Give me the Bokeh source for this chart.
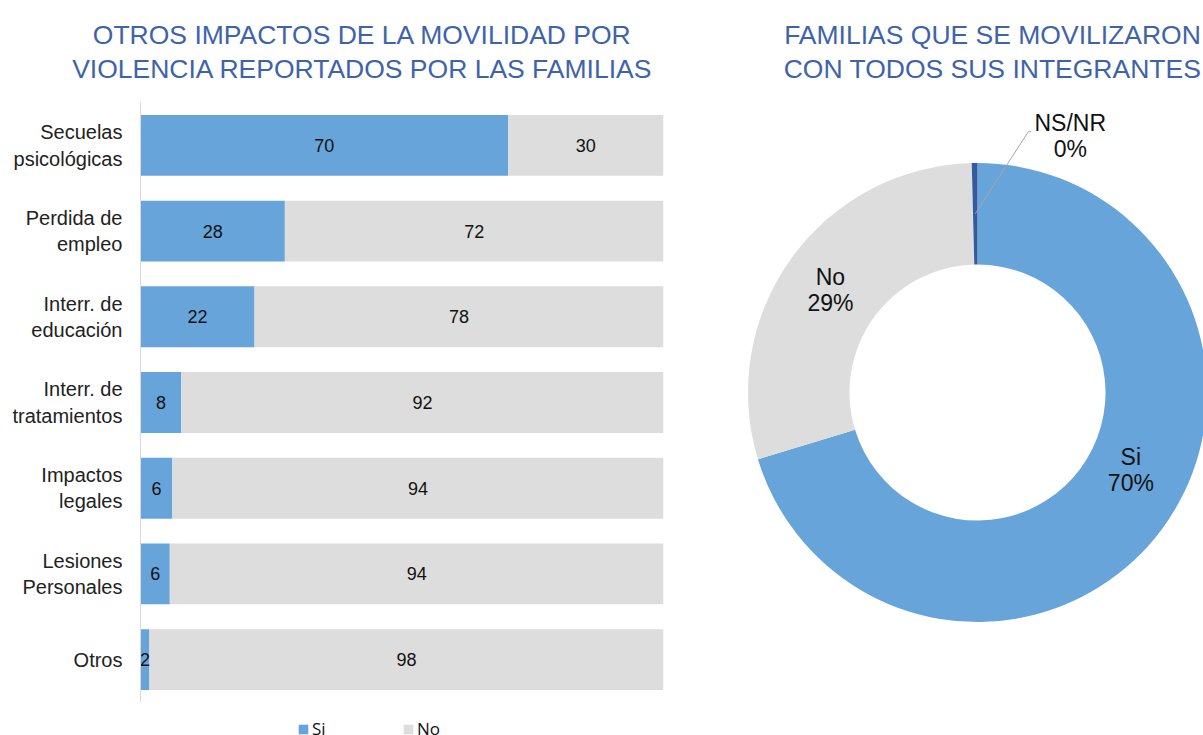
import numpy as np
from bokeh.plotting import figure
from bokeh.models import ColumnDataSource, Range1d, FactorRange, Legend, LegendItem
from bokeh.layouts import row, column
from bokeh.embed import file_html
from bokeh.resources import INLINE
from bokeh.core.properties import value

# ---------------- data ----------------
bar_title_lines = ["OTROS IMPACTOS DE LA MOVILIDAD POR", "VIOLENCIA REPORTADOS POR LAS FAMILIAS"]
pie_title_lines = ["FAMILIAS QUE SE MOVILIZARON", "CON TODOS SUS INTEGRANTES"]

categories = ["Secuelas\npsicológicas", "Perdida de\nempleo", "Interr. de\neducación",
              "Interr. de\ntratamientos", "Impactos\nlegales", "Lesiones\nPersonales", "Otros"]
series_names = ["Si", "No"]
si_values = [70.3, 27.6, 21.8, 7.8, 6.1, 5.6, 1.7]
no_values = [29.7, 72.4, 78.2, 92.2, 93.9, 94.4, 98.3]

pie_labels = ["Si", "No", "NS/NR"]
pie_values = [70.3, 29.3, 0.4]

# ---------------- style ----------------
SI_COLOR = "#67A4DA"
NO_COLOR = "#DDDDDD"
NSNR_COLOR = "#345B9F"
TITLE_COLOR = "#3E63AB"
FONT = "Liberation Sans"
TITLE_SIZE = "26.5px"
TITLE_H = 102
LEFT_W, RIGHT_W = 688, 515
BORDER_L, FRAME_W, BORDER_R = 140, 523, 25
BAR_FRAME_H, LEGEND_H = 600, 33

common = dict(output_backend="svg", toolbar_location=None, outline_line_color=None,
              background_fill_color="white", border_fill_color="white")


def title_fig(width, lines, cx):
    t = figure(width=width, height=TITLE_H, x_range=Range1d(0, width), y_range=Range1d(0, TITLE_H),
               min_border=0, **common)
    t.axis.visible = False
    t.grid.visible = False
    t.text(x=[cx, cx], y=[68, 34], text=lines, text_align="center", text_baseline="alphabetic",
           text_font=value(FONT), text_font_size=TITLE_SIZE, text_color=TITLE_COLOR)
    return t


# ---------------- bar chart ----------------
p1 = figure(y_range=FactorRange(*reversed(categories)), x_range=Range1d(0, 100),
            frame_width=FRAME_W, frame_height=BAR_FRAME_H,
            min_border_left=BORDER_L, min_border_right=BORDER_R, min_border_top=0, min_border_bottom=0,
            **common)

src = ColumnDataSource(dict(cat=categories, Si=si_values, No=no_values))
p1.hbar_stack(series_names, y="cat", height=0.71, color=[SI_COLOR, NO_COLOR],
              line_color=None, source=src)

lab_x, lab_y, lab_t = [], [], []
for c, s, n in zip(categories, si_values, no_values):
    lab_x += [s / 2, s + n / 2]
    lab_y += [c, c]
    lab_t += [str(round(s)), str(round(n))]
p1.text(x=lab_x, y=lab_y, text=lab_t, text_align="center", text_baseline="middle",
        text_font=value(FONT), text_font_size="18px", text_color="#111111")

p1.xaxis.visible = False
p1.xgrid.visible = False
p1.ygrid.visible = False
ya = p1.yaxis[0]
ya.axis_line_color = "#D9D9D9"
ya.major_tick_line_color = None
ya.minor_tick_line_color = None
ya.major_tick_out = 0
ya.major_tick_in = 0
ya.major_label_standoff = 18
ya.major_label_text_font = FONT
ya.major_label_text_font_size = "20px"
ya.major_label_text_color = "#222222"

# ---------------- legend strip below the bars ----------------
lf = figure(x_range=Range1d(0, 100), y_range=Range1d(0, 1),
            frame_width=FRAME_W, frame_height=LEGEND_H,
            min_border_left=BORDER_L, min_border_right=BORDER_R, min_border_top=0, min_border_bottom=0,
            **common)
lf.axis.visible = False
lf.grid.visible = False
# legend key proxies (NaN data: nothing is drawn in the strip itself)
swatches = [lf.hbar(y=[np.nan], right=[np.nan], height=0.5, color=c, line_color=None)
            for c in (SI_COLOR, NO_COLOR)]
legend = Legend(items=[LegendItem(label=n, renderers=[r]) for n, r in zip(series_names, swatches)],
                orientation="horizontal", location=(157, -5),
                glyph_width=12, glyph_height=12, label_standoff=3, label_width=80, spacing=10,
                padding=0, margin=0, border_line_color=None, background_fill_alpha=0,
                label_text_font="Open Sans", label_text_font_size="17px", label_text_color="#111111")
lf.add_layout(legend, "center")

# ---------------- donut ----------------
p2 = figure(x_range=Range1d(-289, 226), y_range=Range1d(-343, 290),
            frame_width=RIGHT_W, frame_height=BAR_FRAME_H + LEGEND_H,
            min_border_left=0, min_border_right=0, min_border_top=0, min_border_bottom=0,
            **common)
p2.axis.visible = False
p2.grid.visible = False

INNER_R, OUTER_R = 128, 229.5
total = float(sum(pie_values))
cum = np.cumsum([0.0] + pie_values)
starts = [np.pi / 2 - 2 * np.pi * c / total for c in cum[:-1]]
ends = [np.pi / 2 - 2 * np.pi * c / total for c in cum[1:]]
pie_src = ColumnDataSource(dict(label=pie_labels, value=pie_values, start=starts, end=ends,
                                color=[SI_COLOR, NO_COLOR, NSNR_COLOR]))
p2.annular_wedge(x=0, y=0, inner_radius=INNER_R, outer_radius=OUTER_R,
                 start_angle="start", end_angle="end", direction="clock",
                 color="color", line_color=None, source=pie_src)

LABEL_R = [172, 179]
LABEL_FRAC = [0.462, 0.49]   # position of label along each slice
in_x, in_y, in_t = [], [], []
for lab, v, s, e, f, r in zip(pie_labels[:2], pie_values[:2], starts[:2], ends[:2], LABEL_FRAC, LABEL_R):
    a = s + (e - s) * f
    in_x.append(r * np.cos(a))
    in_y.append(r * np.sin(a))
    in_t.append(f"{lab}\n{round(v)}%")
p2.text(x=in_x, y=in_y, text=in_t, text_align="center", text_baseline="middle",
        text_font=value(FONT), text_font_size="23px", text_color="#111111", text_line_height=1.0)

# NS/NR outside label with leader line
mid_r = (INNER_R + OUTER_R) / 2
a = (starts[2] + ends[2]) / 2
px, py = mid_r * np.cos(a), mid_r * np.sin(a)
ELBOW_DX, ELBOW_DY, TAIL = 53, 82, 3
LABEL_DX, LABEL_DY = 95, 78
p2.line(x=[px, px + ELBOW_DX, px + ELBOW_DX + TAIL], y=[py, py + ELBOW_DY, py + ELBOW_DY],
        line_color="#A6A6A6", line_width=1)
p2.text(x=[px + LABEL_DX], y=[py + LABEL_DY], text=[f"{pie_labels[2]}\n{round(pie_values[2])}%"],
        text_align="center", text_baseline="middle",
        text_font=value(FONT), text_font_size="23px", text_color="#111111", text_line_height=1.0)

t1 = title_fig(LEFT_W, bar_title_lines, 362)
t2 = title_fig(RIGHT_W, pie_title_lines, 304)

layout = column(row(t1, t2, spacing=0),
                row(column(p1, lf, spacing=0), p2, spacing=0), spacing=0)
open("out.html", "w").write(file_html(layout, INLINE))
